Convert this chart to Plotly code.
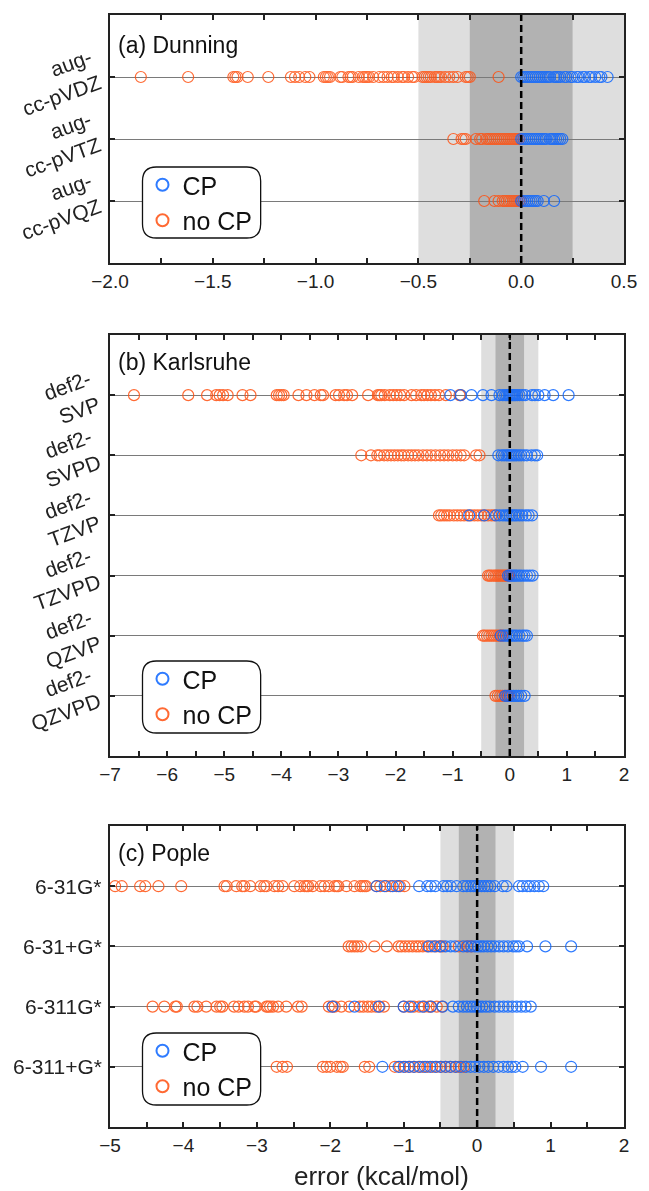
import plotly.graph_objects as go

# ---------------- data ----------------
dun_labels = ["aug-<br>cc-pVDZ", "aug-<br>cc-pVTZ", "aug-<br>cc-pVQZ"]
dun_nocp = [
    [-1.85, -1.62, -1.40, -1.39, -1.38, -1.33, -1.23, -1.12, -1.10, -1.08, -1.05, -1.03, -0.96, -0.95,
     -0.94, -0.93, -0.88, -0.87, -0.84, -0.83, -0.82, -0.79, -0.77, -0.76, -0.75, -0.74, -0.72, -0.69,
     -0.67, -0.65, -0.63, -0.62, -0.60, -0.58, -0.57, -0.55, -0.53, -0.52, -0.48, -0.47, -0.46, -0.45,
     -0.44, -0.42, -0.41, -0.40, -0.39, -0.37, -0.35, -0.33, -0.31, -0.27, -0.26, -0.25, -0.11],
    [-0.33, -0.29, -0.28, -0.27, -0.22, -0.20, -0.19, -0.17, -0.16, -0.15, -0.14, -0.13, -0.12, -0.11,
     -0.10, -0.09, -0.08, -0.07, -0.06, -0.05, -0.04, -0.03, -0.02, -0.01],
    [-0.18, -0.13, -0.11, -0.09, -0.08, -0.07, -0.06, -0.05, -0.04, -0.03, -0.02, -0.01, 0.00],
]
dun_cp = [
    [0.00, 0.01, 0.02, 0.03, 0.04, 0.05, 0.06, 0.07, 0.08, 0.09, 0.10, 0.11, 0.12, 0.13, 0.14, 0.16,
     0.17, 0.18, 0.19, 0.21, 0.22, 0.24, 0.25, 0.27, 0.28, 0.30, 0.31, 0.33, 0.34, 0.36, 0.38, 0.39, 0.42],
    [0.00, 0.01, 0.02, 0.03, 0.04, 0.05, 0.06, 0.07, 0.08, 0.09, 0.10, 0.11, 0.12, 0.14, 0.15, 0.16,
     0.17, 0.18, 0.19, 0.20],
    [0.00, 0.01, 0.02, 0.03, 0.04, 0.05, 0.06, 0.07, 0.08, 0.11, 0.16],
]

kar_labels = ["def2-<br>SVP", "def2-<br>SVPD", "def2-<br>TZVP", "def2-<br>TZVPD", "def2-<br>QZVP", "def2-<br>QZVPD"]
kar_nocp = [
    [-6.58, -5.63, -5.30, -5.14, -5.08, -5.02, -4.94, -4.68, -4.54, -4.08, -4.04, -4.00, -3.96, -3.70,
     -3.56, -3.42, -3.31, -3.27, -3.05, -2.99, -2.90, -2.85, -2.76, -2.48, -2.31, -2.28, -2.25, -2.19,
     -2.10, -2.04, -1.98, -1.92, -1.85, -1.72, -1.64, -1.55, -1.50, -1.44, -1.38, -1.31, -1.24, -1.12,
     -0.88, -0.86],
    [-2.60, -2.43, -2.32, -2.28, -2.20, -2.14, -2.08, -2.02, -1.96, -1.90, -1.85, -1.78, -1.72, -1.66,
     -1.60, -1.52, -1.45, -1.38, -1.30, -1.22, -1.15, -1.08, -1.00, -0.93, -0.86, -0.80, -0.59, -0.53],
    [-1.24, -1.20, -1.15, -1.10, -1.05, -0.98, -0.92, -0.86, -0.80, -0.74, -0.68, -0.62, -0.56, -0.50,
     -0.44, -0.38, -0.32, -0.27],
    [-0.38, -0.35, -0.32, -0.28, -0.25, -0.22, -0.19, -0.16, -0.13, -0.10, -0.07, -0.04, -0.01],
    [-0.47, -0.44, -0.40, -0.36, -0.32, -0.28, -0.24, -0.20, -0.16, -0.13],
    [-0.25, -0.21, -0.17, -0.13, -0.09, -0.05, -0.02],
]
kar_cp = [
    [-1.04, -0.86, -0.67, -0.47, -0.32, -0.18, -0.12, -0.08, -0.05, -0.02, 0.00, 0.02, 0.04, 0.06,
     0.08, 0.10, 0.13, 0.17, 0.22, 0.27, 0.39, 0.44, 0.50, 0.61, 0.76, 1.03],
    [-0.20, -0.14, -0.10, -0.06, -0.03, 0.00, 0.03, 0.06, 0.09, 0.12, 0.16, 0.20, 0.25, 0.30, 0.38,
     0.44, 0.48],
    [-0.71, -0.45, -0.24, -0.18, -0.12, -0.07, -0.03, 0.00, 0.04, 0.08, 0.12, 0.17, 0.22, 0.28, 0.33, 0.39],
    [-0.03, 0.00, 0.03, 0.06, 0.09, 0.12, 0.16, 0.20, 0.25, 0.30, 0.35, 0.40],
    [-0.16, -0.11, -0.07, -0.03, 0.00, 0.04, 0.08, 0.12, 0.17, 0.22, 0.26, 0.30],
    [-0.08, -0.04, 0.00, 0.03, 0.07, 0.11, 0.15, 0.20, 0.26],
]

pop_labels = ["6-31G*", "6-31+G*", "6-311G*", "6-311+G*"]
pop_nocp = [
    [-4.93, -4.84, -4.59, -4.52, -4.34, -4.03, -3.44, -3.41, -3.28, -3.20, -3.17, -3.09, -2.95, -2.90,
     -2.87, -2.76, -2.71, -2.65, -2.49, -2.41, -2.35, -2.32, -2.30, -2.24, -2.13, -2.08, -2.02, -1.94,
     -1.91, -1.89, -1.78, -1.67, -1.59, -1.56, -1.53, -1.51, -1.37, -1.32, -1.24, -1.18, -1.10, -1.05, -0.99],
    [-1.75, -1.71, -1.67, -1.63, -1.58, -1.40, -1.23, -1.07, -1.03, -0.98, -0.93, -0.88, -0.83, -0.79,
     -0.74, -0.68, -0.62, -0.56, -0.51, -0.47, -0.25, -0.14, -0.08],
    [-4.42, -4.26, -4.11, -4.09, -3.85, -3.81, -3.69, -3.55, -3.50, -3.47, -3.31, -3.25, -3.17, -3.12,
     -3.03, -3.01, -2.87, -2.85, -2.82, -2.78, -2.71, -2.60, -2.44, -2.39, -2.02, -1.97, -1.94, -1.85,
     -1.74, -1.60, -1.55, -1.49, -1.44, -1.38, -1.33, -1.27, -1.00, -0.93, -0.86, -0.79, -0.72, -0.66,
     -0.63, -0.55, -0.48],
    [-2.73, -2.65, -2.59, -2.10, -2.05, -2.00, -1.91, -1.86, -1.83, -1.53, -1.47, -1.12, -1.05, -0.98,
     -0.92, -0.86, -0.80, -0.74, -0.68, -0.61, -0.55, -0.49, -0.43, -0.37, -0.30, -0.25, -0.18],
]
pop_cp = [
    [-1.37, -1.26, -1.15, -1.07, -0.79, -0.68, -0.63, -0.57, -0.46, -0.41, -0.36, -0.28, -0.19, -0.14,
     -0.09, -0.05, -0.02, 0.02, 0.06, 0.10, 0.14, 0.18, 0.24, 0.35, 0.40, 0.57, 0.62, 0.68, 0.72, 0.78,
     0.84, 0.90],
    [-0.66, -0.58, -0.50, -0.43, -0.36, -0.30, -0.19, -0.13, -0.08, -0.03, 0.01, 0.05, 0.09, 0.14, 0.19,
     0.24, 0.30, 0.36, 0.42, 0.49, 0.53, 0.57, 0.68, 0.93, 1.28],
    [-1.97, -1.67, -1.34, -1.00, -0.90, -0.74, -0.63, -0.47, -0.33, -0.25, -0.19, -0.14, -0.09, -0.05,
     -0.01, 0.03, 0.07, 0.12, 0.17, 0.24, 0.30, 0.36, 0.42, 0.48, 0.54, 0.60, 0.66, 0.73],
    [-1.29, -1.07, -1.00, -0.93, -0.86, -0.78, -0.71, -0.64, -0.57, -0.50, -0.43, -0.36, -0.29, -0.22,
     -0.15, -0.09, -0.03, 0.03, 0.09, 0.15, 0.22, 0.29, 0.36, 0.42, 0.47, 0.52, 0.62, 0.87, 1.28],
]

panel_titles = ["(a) Dunning", "(b) Karlsruhe", "(c) Pople"]
x_ranges = [[-2.0, 0.5], [-7, 2], [-5, 2]]
x_title = "error (kcal/mol)"

# ---------------- styling ----------------
BLUE = "#0a64ff"
ORANGE = "#ff5010"
W, H = 649, 1191
ML, MR, MT, MB = 110, 17, 15, 64
PW, PH = W - ML - MR, H - MT - MB


def px_x(p):
    return (p - ML) / PW


def px_y(p):
    return (H - MB - p) / PH


panels = [
    dict(labels=dun_labels, nocp=dun_nocp, cp=dun_cp, top=15, bot=263, step=0.25, fmt="{:.1f}", angle=-20,
         lab_x=107, lab_shift=-5, title_y=45, leg_top=167, leg_bot=238),
    dict(labels=kar_labels, nocp=kar_nocp, cp=kar_cp, top=335, bot=756, step=0.5, fmt="{:.0f}", angle=-20,
         lab_x=106, lab_shift=-3, title_y=362, leg_top=661, leg_bot=733),
    dict(labels=pop_labels, nocp=pop_nocp, cp=pop_cp, top=826, bot=1127, step=0.5, fmt="{:.0f}", angle=0,
         lab_x=104, lab_shift=0, title_y=853, leg_top=1033, leg_bot=1105),
]

fig = go.Figure()
layout = dict(
    width=W, height=H, margin=dict(l=ML, r=MR, t=MT, b=MB),
    paper_bgcolor="white", plot_bgcolor="white",
    font=dict(family="Liberation Sans, Arial, Helvetica, sans-serif", color="#1a1a1a", size=17),
    shapes=[], annotations=[],
)


def fmt_tick(v, fmt):
    s = fmt.format(abs(v))
    return ("\u2212" + s) if v < -1e-9 else s


for i, p in enumerate(panels):
    n = i + 1
    xa = "x" if n == 1 else f"x{n}"
    ya = "y" if n == 1 else f"y{n}"
    leg = "legend" if n == 1 else f"legend{n}"
    lo, hi = x_ranges[i]
    xs_n, ys_n, xs_c, ys_c = [], [], [], []
    for lab, vals in zip(p["labels"], p["nocp"]):
        xs_n += vals
        ys_n += [lab] * len(vals)
    for lab, vals in zip(p["labels"], p["cp"]):
        xs_c += vals
        ys_c += [lab] * len(vals)
    fig.add_trace(go.Scatter(
        x=xs_n, y=ys_n, mode="markers", name="no CP", xaxis=xa, yaxis=ya, legend=leg,
        legendgroup=f"n{n}", legendrank=2, opacity=0.85,
        marker=dict(symbol="circle-open", size=11, color=ORANGE, line=dict(width=1.2, color=ORANGE))))
    fig.add_trace(go.Scatter(
        x=xs_c, y=ys_c, mode="markers", name="CP", xaxis=xa, yaxis=ya, legend=leg,
        legendgroup=f"c{n}", legendrank=1, opacity=0.85,
        marker=dict(symbol="circle-open", size=11, color=BLUE, line=dict(width=1.2, color=BLUE))))

    dom = [px_y(p["bot"]), px_y(p["top"])]
    tv, tt = [], []
    v = lo
    lab_step = 0.5 if n == 1 else 1.0
    while v <= hi + 1e-9:
        tv.append(round(v, 4))
        if abs(v / lab_step - round(v / lab_step)) < 1e-6:
            tt.append(fmt_tick(v, p["fmt"]))
        else:
            tt.append("")
        v += p["step"]
    layout["xaxis" if n == 1 else f"xaxis{n}"] = dict(
        domain=[0, 1], anchor=ya, range=[lo, hi], tickmode="array", tickvals=tv, ticktext=tt,
        ticks="inside", ticklen=5, tickwidth=1.5, tickcolor="#222", showline=True, linewidth=2,
        linecolor="#222", mirror="ticks", showgrid=False, zeroline=False,
        tickfont=dict(size=19, color="#222"),
    )
    nl = len(p["labels"])
    layout["yaxis" if n == 1 else f"yaxis{n}"] = dict(
        domain=dom, anchor=xa, type="category", categoryorder="array", categoryarray=p["labels"],
        range=[nl, -1], ticks="inside", ticklen=5, tickwidth=2, tickcolor="#222", showline=True,
        linewidth=2, linecolor="#222", mirror="ticks", showgrid=True, gridcolor="#7a7a7a", gridwidth=1,
        zeroline=False, showticklabels=False,
    )
    for j, lab in enumerate(p["labels"]):
        layout["annotations"].append(dict(
            text=lab, xref="paper", x=px_x(p["lab_x"]), xanchor="right", yref=ya, y=j,
            yanchor="middle", yshift=p["lab_shift"], textangle=p["angle"], align="right",
            showarrow=False, font=dict(size=21, color="#222")))
    xr = xa
    yd = f"{ya} domain"
    layout["shapes"] += [
        dict(type="rect", xref=xr, yref=yd, x0=-0.5, x1=0.5, y0=0, y1=1, fillcolor="#dedede",
             line=dict(width=0), layer="below"),
        dict(type="rect", xref=xr, yref=yd, x0=-0.25, x1=0.25, y0=0, y1=1, fillcolor="#b2b2b2",
             line=dict(width=0), layer="below"),
        dict(type="line", xref=xr, yref=yd, x0=0, x1=0, y0=0, y1=1,
             line=dict(color="black", width=2.5, dash="7px,4px"), layer="above"),
    ]
    x0, x1 = px_x(143), px_x(263)
    y0, y1 = px_y(p["leg_bot"]), px_y(p["leg_top"])
    rx, ry = 14 / PW, 14 / PH
    path = (f"M {x0+rx},{y0} L {x1-rx},{y0} Q {x1},{y0} {x1},{y0+ry} L {x1},{y1-ry} "
            f"Q {x1},{y1} {x1-rx},{y1} L {x0+rx},{y1} Q {x0},{y1} {x0},{y1-ry} "
            f"L {x0},{y0+ry} Q {x0},{y0} {x0+rx},{y0} Z")
    layout["shapes"].append(dict(type="path", xref="paper", yref="paper", path=path,
                                 fillcolor="white", line=dict(color="#111", width=1.3), layer="above"))
    layout[leg] = dict(
        x=px_x(143), y=px_y(p["leg_top"] - 5), xanchor="left", yanchor="top",
        bgcolor="rgba(0,0,0,0)", borderwidth=0, font=dict(size=25, color="#111"),
        tracegroupgap=0, itemsizing="constant",
    )
    layout["annotations"].append(dict(
        text=panel_titles[i], xref="paper", yref="paper", x=px_x(116), y=px_y(p["title_y"]),
        xanchor="left", yanchor="middle", showarrow=False, font=dict(size=23, color="#111")))

layout["annotations"].append(dict(
    text=x_title, xref="paper", yref="paper", x=px_x(386), y=px_y(1176), xanchor="center",
    yanchor="middle", showarrow=False, font=dict(size=26, color="#222")))

fig.update_layout(**layout)
fig.write_html("out.html", config={"displayModeBar": False},
               post_script="document.body.style.margin='0';")
